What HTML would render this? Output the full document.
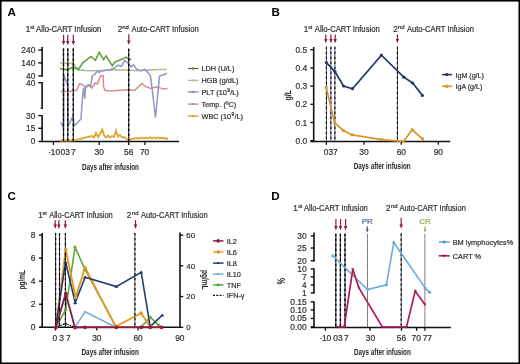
<!DOCTYPE html>
<html><head><meta charset="utf-8"><style>
html,body{margin:0;padding:0;background:#fff;}
body{width:520px;height:364px;overflow:hidden;}
svg{display:block;font-family:"Liberation Sans", sans-serif;will-change:transform;}
</style></head><body>
<svg width="520" height="364" viewBox="0 0 520 364">
<rect x="0" y="0" width="520" height="364" fill="#fff"/>
<text x="7.4" y="16.1" font-size="11.6" fill="#000" font-weight="bold">A</text>
<text x="25.85" y="32" font-size="8.2" fill="#333333" stroke="#333333" stroke-width="0.22">1</text>
<text x="30.2" y="29.2" font-size="5.3" fill="#333333" stroke="#333333" stroke-width="0.22">st</text>
<text x="36.1" y="32" font-size="8.2" fill="#333333" textLength="65.2" lengthAdjust="spacingAndGlyphs" stroke="#333333" stroke-width="0.22">Allo-CART Infusion</text>
<text x="117.7" y="32" font-size="8.2" fill="#333333" stroke="#333333" stroke-width="0.22">2</text>
<text x="122.2" y="29.2" font-size="5.9" fill="#333333" stroke="#333333" stroke-width="0.22">nd</text>
<text x="131.6" y="32" font-size="8.2" fill="#333333" textLength="67.0" lengthAdjust="spacingAndGlyphs" stroke="#333333" stroke-width="0.22">Auto-CART Infusion</text>
<line x1="63.6" y1="34.8" x2="63.6" y2="41.4" stroke="#8e1a3c" stroke-width="1.2"/>
<polygon points="61.9,40.9 65.3,40.9 63.6,45.3" fill="#8e1a3c"/>
<line x1="67.8" y1="34.8" x2="67.8" y2="41.4" stroke="#8e1a3c" stroke-width="1.2"/>
<polygon points="66.1,40.9 69.5,40.9 67.8,45.3" fill="#8e1a3c"/>
<line x1="73.3" y1="34.8" x2="73.3" y2="41.4" stroke="#8e1a3c" stroke-width="1.2"/>
<polygon points="71.6,40.9 75.0,40.9 73.3,45.3" fill="#8e1a3c"/>
<line x1="128.8" y1="34.3" x2="128.8" y2="41.0" stroke="#8e1a3c" stroke-width="1.2"/>
<polygon points="127.10000000000001,40.5 130.5,40.5 128.8,44.9" fill="#8e1a3c"/>
<line x1="42.1" y1="46.9" x2="42.1" y2="76.7" stroke="#111" stroke-width="1.6" stroke-linecap="butt"/>
<line x1="42.1" y1="82.0" x2="42.1" y2="108.8" stroke="#111" stroke-width="1.6" stroke-linecap="butt"/>
<line x1="42.1" y1="115.3" x2="42.1" y2="142.0" stroke="#111" stroke-width="1.6" stroke-linecap="butt"/>
<line x1="38.3" y1="50.0" x2="42.1" y2="50.0" stroke="#111" stroke-width="1.4" stroke-linecap="butt"/>
<line x1="38.3" y1="62.9" x2="42.1" y2="62.9" stroke="#111" stroke-width="1.4" stroke-linecap="butt"/>
<line x1="38.3" y1="75.9" x2="42.1" y2="75.9" stroke="#111" stroke-width="1.4" stroke-linecap="butt"/>
<line x1="38.3" y1="82.7" x2="42.1" y2="82.7" stroke="#111" stroke-width="1.4" stroke-linecap="butt"/>
<line x1="38.3" y1="115.6" x2="42.1" y2="115.6" stroke="#111" stroke-width="1.4" stroke-linecap="butt"/>
<line x1="38.3" y1="128.3" x2="42.1" y2="128.3" stroke="#111" stroke-width="1.4" stroke-linecap="butt"/>
<line x1="40.6" y1="108.2" x2="42.9" y2="108.2" stroke="#111" stroke-width="1.2" stroke-linecap="butt"/>
<line x1="38.6" y1="141.4" x2="179.0" y2="141.4" stroke="#111" stroke-width="1.5" stroke-linecap="butt"/>
<line x1="53.4" y1="141.4" x2="53.4" y2="144.9" stroke="#111" stroke-width="1.3" stroke-linecap="butt"/>
<line x1="99.2" y1="141.4" x2="99.2" y2="144.9" stroke="#111" stroke-width="1.3" stroke-linecap="butt"/>
<line x1="128.7" y1="141.4" x2="128.7" y2="144.9" stroke="#111" stroke-width="1.3" stroke-linecap="butt"/>
<line x1="144.9" y1="141.4" x2="144.9" y2="144.9" stroke="#111" stroke-width="1.3" stroke-linecap="butt"/>
<text x="35.3" y="53.0" font-size="8.4" fill="#333333" text-anchor="end" stroke="#333333" stroke-width="0.22">240</text>
<text x="35.3" y="65.9" font-size="8.4" fill="#333333" text-anchor="end" stroke="#333333" stroke-width="0.22">140</text>
<text x="35.3" y="78.9" font-size="8.4" fill="#333333" text-anchor="end" stroke="#333333" stroke-width="0.22">40</text>
<text x="35.3" y="85.7" font-size="8.4" fill="#333333" text-anchor="end" stroke="#333333" stroke-width="0.22">40</text>
<text x="35.3" y="118.6" font-size="8.4" fill="#333333" text-anchor="end" stroke="#333333" stroke-width="0.22">30</text>
<text x="35.3" y="131.3" font-size="8.4" fill="#333333" text-anchor="end" stroke="#333333" stroke-width="0.22">15</text>
<text x="35.3" y="144.0" font-size="8.4" fill="#333333" text-anchor="end" stroke="#333333" stroke-width="0.22">0</text>
<text x="54.4" y="154.7" font-size="8.4" fill="#333333" text-anchor="middle" stroke="#333333" stroke-width="0.22"><tspan font-size="6" dy="-0.6">-</tspan><tspan dy="0.6">10</tspan></text>
<text x="62.9" y="154.7" font-size="8.4" fill="#333333" text-anchor="middle" stroke="#333333" stroke-width="0.22">0</text>
<text x="67.6" y="154.7" font-size="8.4" fill="#333333" text-anchor="middle" stroke="#333333" stroke-width="0.22">3</text>
<text x="73.3" y="154.7" font-size="8.4" fill="#333333" text-anchor="middle" stroke="#333333" stroke-width="0.22">7</text>
<text x="99.2" y="154.7" font-size="8.4" fill="#333333" text-anchor="middle" stroke="#333333" stroke-width="0.22">30</text>
<text x="128.7" y="154.7" font-size="8.4" fill="#333333" text-anchor="middle" stroke="#333333" stroke-width="0.22">56</text>
<text x="144.6" y="154.7" font-size="8.4" fill="#333333" text-anchor="middle" stroke="#333333" stroke-width="0.22">70</text>
<text x="82.0" y="170.1" font-size="9.4" fill="#222" font-weight="bold" textLength="56.9" lengthAdjust="spacingAndGlyphs">Days after infusion</text>
<polyline points="60,62.8 63.5,63 67.6,63.2 73.3,63.6 76,67 79,69.8 85,70.6 95,70.8 105,70.4 115,69.8 125,69.9 130,70.2 136,70.8 142,70.3 150,69.9 160,69.6 167,69.6" fill="none" stroke="#b0bc8c" stroke-width="1.5" stroke-linejoin="miter"/>
<polyline points="60,68.4 63.5,69.3 67.6,69.7 73.3,67.2 78.3,69.7 82.8,62.8 91,56.4 95.4,60.2 99.2,52.3 103.6,59.6 106.1,55.8 112.3,65.8 114.6,62.3 122.7,58.8 126.1,57.1 128.5,58.8 131.3,59.4" fill="none" stroke="#5b9e32" stroke-width="1.5" stroke-linejoin="miter"/>
<polyline points="60.7,91.6 65,91.5 70,91.2 76.6,90.3 79.7,83.8 82.8,84.9 85.8,88 88.5,84.7 92,88 95,83 97.5,84 99.7,78 100.8,75.7 103.2,75.7 103.5,86.5 105,90.3 110,91 117.4,90.4 128.5,89.7 134.7,90.4 138.4,86.7 142.1,83.6 145.8,86.7 150.8,88.5 157,86.7 163.2,89.1 167.5,88.5" fill="none" stroke="#d4908a" stroke-width="1.5" stroke-linejoin="miter"/>
<polyline points="61,122 63.5,128 63.5,74 67.8,86 67.8,127 69,124 73,116 74.2,126 81,119 82.5,97 83.5,88 84.8,99 85.5,87 88.2,85 90.5,86.5 92.4,75.7 95,74.2 97.4,71 99,72.6 101.2,71 105,70.2 110,69.8 114.6,68 118,65.2 121.5,66.3 124.4,60.6 127.3,62.3 129,64.6 131.3,66.9 133.6,64.6 136.5,69.2 141.1,71 144.6,69.2 148,72.7 150.4,75.6 152.6,92.8 155.5,117.6 157.6,95.3 159.6,76.1 163,75 167,73.3" fill="none" stroke="#9197c6" stroke-width="1.5" stroke-linejoin="miter"/>
<polyline points="60,140.5 70,140.5 76,140 80,139 84,137.8 88,137 92,136 94,137.5 96,133 98,137 100,134 102.3,129.5 104,135 106,137.5 108,135.5 110,137.5 112,136 114,137 116,130.5 118,136.5 120,135 122,137.5 124,137 126,138.5 128.5,140 131,139.5 134,138.5 137,138 140,138.5 142,137.5 144,138.5 146,137.5 148,138.5 150,137.3 152,138.5 154,137.5 156,138.5 158,137.5 160,138.2 162,137.8 164,138.5 166,138 168,139.5" fill="none" stroke="#e2a73a" stroke-width="1.9" stroke-linejoin="miter"/>
<line x1="63.5" y1="48.5" x2="63.5" y2="141" stroke="#30303a" stroke-width="1.2349999999999999" stroke-linecap="butt"/>
<line x1="63.5" y1="48.5" x2="63.5" y2="141" stroke="#000" stroke-width="1.3" stroke-linecap="butt" stroke-dasharray="2.2 2.8"/>
<line x1="67.8" y1="48.5" x2="67.8" y2="141" stroke="#30303a" stroke-width="1.2349999999999999" stroke-linecap="butt"/>
<line x1="67.8" y1="48.5" x2="67.8" y2="141" stroke="#000" stroke-width="1.3" stroke-linecap="butt" stroke-dasharray="2.2 2.8"/>
<line x1="73.3" y1="48.5" x2="73.3" y2="141" stroke="#30303a" stroke-width="1.2349999999999999" stroke-linecap="butt"/>
<line x1="73.3" y1="48.5" x2="73.3" y2="141" stroke="#000" stroke-width="1.3" stroke-linecap="butt" stroke-dasharray="2.2 2.8"/>
<line x1="128.7" y1="48.8" x2="128.7" y2="141" stroke="#30303a" stroke-width="1.2349999999999999" stroke-linecap="butt"/>
<line x1="128.7" y1="48.8" x2="128.7" y2="141" stroke="#000" stroke-width="1.3" stroke-linecap="butt" stroke-dasharray="2.2 2.8"/>
<line x1="188" y1="68.5" x2="198.5" y2="68.5" stroke="#55704a" stroke-width="1.3" stroke-linecap="butt"/>
<circle cx="193.2" cy="68.5" r="1.2" fill="#5e8a3e"/>
<text x="201.5" y="71.2" font-size="7.3" fill="#333333" stroke="#333333" stroke-width="0.22">LDH (U/L)</text>
<line x1="188" y1="80.4" x2="198.5" y2="80.4" stroke="#b4bb98" stroke-width="1.3" stroke-linecap="butt"/>
<circle cx="193.2" cy="80.4" r="1.2" fill="#b0c08c"/>
<text x="201.5" y="83.1" font-size="7.3" fill="#333333" stroke="#333333" stroke-width="0.22">HGB (g/dL)</text>
<line x1="188" y1="91.9" x2="198.5" y2="91.9" stroke="#7e84b0" stroke-width="1.3" stroke-linecap="butt"/>
<circle cx="193.2" cy="91.9" r="1.2" fill="#8088c0"/>
<text x="201.5" y="94.6" font-size="7.3" fill="#333333" stroke="#333333" stroke-width="0.22">PLT (10<tspan font-size="5" dx="0.4" dy="-3">9</tspan><tspan dx="0.2" dy="3">/L)</tspan></text>
<line x1="188" y1="104.1" x2="198.5" y2="104.1" stroke="#b08e88" stroke-width="1.3" stroke-linecap="butt"/>
<circle cx="193.2" cy="104.1" r="1.2" fill="#c08a84"/>
<text x="201.5" y="106.8" font-size="7.3" fill="#333333" stroke="#333333" stroke-width="0.22">Temp. (ºC)</text>
<line x1="188" y1="116.1" x2="198.5" y2="116.1" stroke="#d09a3a" stroke-width="1.3" stroke-linecap="butt"/>
<circle cx="193.2" cy="116.1" r="1.2" fill="#dca030"/>
<text x="201.5" y="118.8" font-size="7.3" fill="#333333" stroke="#333333" stroke-width="0.22">WBC (10<tspan font-size="5" dx="0.4" dy="-3">9</tspan><tspan dx="0.2" dy="3">/L)</tspan></text>
<text x="271.5" y="15.7" font-size="11.6" fill="#000" font-weight="bold">B</text>
<text x="303.75" y="31.7" font-size="8.2" fill="#333333" stroke="#333333" stroke-width="0.22">1</text>
<text x="308.2" y="28.9" font-size="5.3" fill="#333333" stroke="#333333" stroke-width="0.22">st</text>
<text x="314.8" y="31.7" font-size="8.2" fill="#333333" textLength="64.9" lengthAdjust="spacingAndGlyphs" stroke="#333333" stroke-width="0.22">Allo-CART Infusion</text>
<text x="393.2" y="31.7" font-size="8.2" fill="#333333" stroke="#333333" stroke-width="0.22">2</text>
<text x="398.1" y="28.9" font-size="5.9" fill="#333333" stroke="#333333" stroke-width="0.22">nd</text>
<text x="407.0" y="31.7" font-size="8.2" fill="#333333" textLength="66.9" lengthAdjust="spacingAndGlyphs" stroke="#333333" stroke-width="0.22">Auto-CART Infusion</text>
<line x1="325.8" y1="34.6" x2="325.8" y2="39.4" stroke="#8e1a3c" stroke-width="1.2"/>
<polygon points="324.1,38.9 327.5,38.9 325.8,43.3" fill="#8e1a3c"/>
<line x1="330.9" y1="34.6" x2="330.9" y2="39.4" stroke="#8e1a3c" stroke-width="1.2"/>
<polygon points="329.2,38.9 332.59999999999997,38.9 330.9,43.3" fill="#8e1a3c"/>
<line x1="335.2" y1="34.6" x2="335.2" y2="39.4" stroke="#8e1a3c" stroke-width="1.2"/>
<polygon points="333.5,38.9 336.9,38.9 335.2,43.3" fill="#8e1a3c"/>
<line x1="397.4" y1="34.6" x2="397.4" y2="39.4" stroke="#8e1a3c" stroke-width="1.2"/>
<polygon points="395.7,38.9 399.09999999999997,38.9 397.4,43.3" fill="#8e1a3c"/>
<line x1="313.7" y1="47.0" x2="313.7" y2="142.2" stroke="#111" stroke-width="1.6" stroke-linecap="butt"/>
<line x1="310.4" y1="49.7" x2="313.7" y2="49.7" stroke="#111" stroke-width="1.4" stroke-linecap="butt"/>
<text x="307.2" y="52.7" font-size="8.4" fill="#333333" text-anchor="end" stroke="#333333" stroke-width="0.22">0.5</text>
<line x1="310.4" y1="67.9" x2="313.7" y2="67.9" stroke="#111" stroke-width="1.4" stroke-linecap="butt"/>
<text x="307.2" y="70.9" font-size="8.4" fill="#333333" text-anchor="end" stroke="#333333" stroke-width="0.22">0.4</text>
<line x1="310.4" y1="86.1" x2="313.7" y2="86.1" stroke="#111" stroke-width="1.4" stroke-linecap="butt"/>
<text x="307.2" y="89.1" font-size="8.4" fill="#333333" text-anchor="end" stroke="#333333" stroke-width="0.22">0.3</text>
<line x1="310.4" y1="104.3" x2="313.7" y2="104.3" stroke="#111" stroke-width="1.4" stroke-linecap="butt"/>
<text x="307.2" y="107.3" font-size="8.4" fill="#333333" text-anchor="end" stroke="#333333" stroke-width="0.22">0.2</text>
<line x1="310.4" y1="122.5" x2="313.7" y2="122.5" stroke="#111" stroke-width="1.4" stroke-linecap="butt"/>
<text x="307.2" y="125.5" font-size="8.4" fill="#333333" text-anchor="end" stroke="#333333" stroke-width="0.22">0.1</text>
<line x1="310.4" y1="140.7" x2="313.7" y2="140.7" stroke="#111" stroke-width="1.4" stroke-linecap="butt"/>
<text x="307.2" y="143.7" font-size="8.4" fill="#333333" text-anchor="end" stroke="#333333" stroke-width="0.22">0.0</text>
<line x1="310.4" y1="141.6" x2="450.2" y2="141.6" stroke="#111" stroke-width="1.5" stroke-linecap="butt"/>
<line x1="326.4" y1="141.6" x2="326.4" y2="144.8" stroke="#111" stroke-width="1.3" stroke-linecap="butt"/>
<line x1="364.0" y1="141.6" x2="364.0" y2="144.8" stroke="#111" stroke-width="1.3" stroke-linecap="butt"/>
<line x1="401.3" y1="141.6" x2="401.3" y2="144.8" stroke="#111" stroke-width="1.3" stroke-linecap="butt"/>
<line x1="438.3" y1="141.6" x2="438.3" y2="144.8" stroke="#111" stroke-width="1.3" stroke-linecap="butt"/>
<text x="326.0" y="154.6" font-size="8.4" fill="#333333" text-anchor="middle" stroke="#333333" stroke-width="0.22">0</text>
<text x="330.8" y="154.6" font-size="8.4" fill="#333333" text-anchor="middle" stroke="#333333" stroke-width="0.22">3</text>
<text x="335.4" y="154.6" font-size="8.4" fill="#333333" text-anchor="middle" stroke="#333333" stroke-width="0.22">7</text>
<text x="364.0" y="154.6" font-size="8.4" fill="#333333" text-anchor="middle" stroke="#333333" stroke-width="0.22">30</text>
<text x="401.3" y="154.6" font-size="8.4" fill="#333333" text-anchor="middle" stroke="#333333" stroke-width="0.22">60</text>
<text x="438.3" y="154.6" font-size="8.4" fill="#333333" text-anchor="middle" stroke="#333333" stroke-width="0.22">90</text>
<text x="353.8" y="168.5" font-size="9.4" fill="#222" font-weight="bold" textLength="56.8" lengthAdjust="spacingAndGlyphs">Days after infusion</text>
<text x="290.6" y="95.3" font-size="9.6" fill="#222" text-anchor="middle" font-weight="bold" textLength="10.6" lengthAdjust="spacingAndGlyphs" transform="rotate(-90 290.6 95.3)">g/L</text>
<line x1="326.4" y1="46.8" x2="326.4" y2="141.6" stroke="#4a4a66" stroke-width="0.9974999999999999" stroke-linecap="butt"/>
<line x1="326.4" y1="46.8" x2="326.4" y2="141.6" stroke="#000" stroke-width="1.05" stroke-linecap="butt" stroke-dasharray="2.2 2.8"/>
<line x1="330.9" y1="46.8" x2="330.9" y2="141.6" stroke="#4a4a66" stroke-width="0.9974999999999999" stroke-linecap="butt"/>
<line x1="330.9" y1="46.8" x2="330.9" y2="141.6" stroke="#000" stroke-width="1.05" stroke-linecap="butt" stroke-dasharray="2.2 2.8"/>
<line x1="334.9" y1="46.8" x2="334.9" y2="141.6" stroke="#4a4a66" stroke-width="0.9974999999999999" stroke-linecap="butt"/>
<line x1="334.9" y1="46.8" x2="334.9" y2="141.6" stroke="#000" stroke-width="1.05" stroke-linecap="butt" stroke-dasharray="2.2 2.8"/>
<line x1="397.4" y1="46.8" x2="397.4" y2="141.6" stroke="#4a4a66" stroke-width="0.9974999999999999" stroke-linecap="butt"/>
<line x1="397.4" y1="46.8" x2="397.4" y2="141.6" stroke="#000" stroke-width="1.05" stroke-linecap="butt" stroke-dasharray="2.2 2.8"/>
<polyline points="326.2,87.5 334.7,122.8 343.3,130.5 352.1,134.9 381.7,139.6 403.5,141.4 412.2,129.8 422.6,139.0" fill="none" stroke="#d8962a" stroke-width="1.7" stroke-linejoin="miter"/>
<rect x="324.8" y="86.1" width="2.8" height="2.8" fill="#d8962a"/>
<rect x="333.3" y="121.39999999999999" width="2.8" height="2.8" fill="#d8962a"/>
<rect x="341.90000000000003" y="129.1" width="2.8" height="2.8" fill="#d8962a"/>
<rect x="350.70000000000005" y="133.5" width="2.8" height="2.8" fill="#d8962a"/>
<rect x="380.3" y="138.2" width="2.8" height="2.8" fill="#d8962a"/>
<rect x="402.1" y="140.0" width="2.8" height="2.8" fill="#d8962a"/>
<rect x="410.8" y="128.4" width="2.8" height="2.8" fill="#d8962a"/>
<rect x="421.20000000000005" y="137.6" width="2.8" height="2.8" fill="#d8962a"/>
<polyline points="326.4,62.6 334.9,71.6 343.5,86.0 352.5,88.7 381.4,55.2 403.8,77.2 412.6,83.0 422.4,95.4" fill="none" stroke="#27376e" stroke-width="1.7" stroke-linejoin="miter"/>
<circle cx="326.4" cy="62.6" r="1.6" fill="#27376e"/>
<circle cx="334.9" cy="71.6" r="1.6" fill="#27376e"/>
<circle cx="343.5" cy="86.0" r="1.6" fill="#27376e"/>
<circle cx="352.5" cy="88.7" r="1.6" fill="#27376e"/>
<circle cx="381.4" cy="55.2" r="1.6" fill="#27376e"/>
<circle cx="403.8" cy="77.2" r="1.6" fill="#27376e"/>
<circle cx="412.6" cy="83.0" r="1.6" fill="#27376e"/>
<circle cx="422.4" cy="95.4" r="1.6" fill="#27376e"/>
<line x1="442" y1="74.6" x2="452.1" y2="74.6" stroke="#27376e" stroke-width="1.6" stroke-linecap="butt"/>
<circle cx="446.8" cy="74.6" r="1.7" fill="#27376e"/>
<line x1="442" y1="86.3" x2="452.1" y2="86.3" stroke="#d8962a" stroke-width="1.6" stroke-linecap="butt"/>
<rect x="445.35" y="84.85" width="2.9" height="2.9" fill="#d8962a"/>
<text x="455.5" y="77.5" font-size="7.1" fill="#333333" stroke="#333333" stroke-width="0.22">IgM (g/L)</text>
<text x="455.5" y="88.5" font-size="7.1" fill="#333333" stroke="#333333" stroke-width="0.22">IgA (g/L)</text>
<text x="7.4" y="199.7" font-size="11.6" fill="#000" font-weight="bold">C</text>
<text x="38.15" y="218.0" font-size="8.2" fill="#333333" stroke="#333333" stroke-width="0.22">1</text>
<text x="42.5" y="215.2" font-size="5.3" fill="#333333" stroke="#333333" stroke-width="0.22">st</text>
<text x="49.2" y="218.0" font-size="8.2" fill="#333333" textLength="63.6" lengthAdjust="spacingAndGlyphs" stroke="#333333" stroke-width="0.22">Allo-CART Infusion</text>
<text x="126.8" y="218.0" font-size="8.2" fill="#333333" stroke="#333333" stroke-width="0.22">2</text>
<text x="132.1" y="215.2" font-size="5.9" fill="#333333" stroke="#333333" stroke-width="0.22">nd</text>
<text x="141.0" y="218.0" font-size="8.2" fill="#333333" textLength="66.6" lengthAdjust="spacingAndGlyphs" stroke="#333333" stroke-width="0.22">Auto-CART Infusion</text>
<line x1="55.2" y1="220.3" x2="55.2" y2="225.1" stroke="#8e1a3c" stroke-width="1.2"/>
<polygon points="53.5,224.6 56.900000000000006,224.6 55.2,229.0" fill="#8e1a3c"/>
<line x1="58.8" y1="220.3" x2="58.8" y2="225.1" stroke="#8e1a3c" stroke-width="1.2"/>
<polygon points="57.099999999999994,224.6 60.5,224.6 58.8,229.0" fill="#8e1a3c"/>
<line x1="65.3" y1="220.3" x2="65.3" y2="225.1" stroke="#8e1a3c" stroke-width="1.2"/>
<polygon points="63.599999999999994,224.6 67.0,224.6 65.3,229.0" fill="#8e1a3c"/>
<line x1="135.5" y1="220.3" x2="135.5" y2="225.1" stroke="#8e1a3c" stroke-width="1.2"/>
<polygon points="133.8,224.6 137.2,224.6 135.5,229.0" fill="#8e1a3c"/>
<line x1="42.2" y1="233.0" x2="42.2" y2="327.9" stroke="#111" stroke-width="1.6" stroke-linecap="butt"/>
<line x1="39.0" y1="235.1" x2="42.2" y2="235.1" stroke="#111" stroke-width="1.4" stroke-linecap="butt"/>
<text x="35.3" y="238.1" font-size="8.4" fill="#333333" text-anchor="end" stroke="#333333" stroke-width="0.22">8</text>
<line x1="39.0" y1="258.15" x2="42.2" y2="258.15" stroke="#111" stroke-width="1.4" stroke-linecap="butt"/>
<text x="35.3" y="261.15" font-size="8.4" fill="#333333" text-anchor="end" stroke="#333333" stroke-width="0.22">6</text>
<line x1="39.0" y1="281.2" x2="42.2" y2="281.2" stroke="#111" stroke-width="1.4" stroke-linecap="butt"/>
<text x="35.3" y="284.2" font-size="8.4" fill="#333333" text-anchor="end" stroke="#333333" stroke-width="0.22">4</text>
<line x1="39.0" y1="304.25" x2="42.2" y2="304.25" stroke="#111" stroke-width="1.4" stroke-linecap="butt"/>
<text x="35.3" y="307.25" font-size="8.4" fill="#333333" text-anchor="end" stroke="#333333" stroke-width="0.22">2</text>
<line x1="39.0" y1="327.3" x2="42.2" y2="327.3" stroke="#111" stroke-width="1.4" stroke-linecap="butt"/>
<text x="35.3" y="330.3" font-size="8.4" fill="#333333" text-anchor="end" stroke="#333333" stroke-width="0.22">0</text>
<line x1="180.0" y1="232.4" x2="180.0" y2="327.9" stroke="#111" stroke-width="1.6" stroke-linecap="butt"/>
<line x1="180.0" y1="235.1" x2="183.2" y2="235.1" stroke="#111" stroke-width="1.4" stroke-linecap="butt"/>
<text x="186.3" y="237.9" font-size="7.8" fill="#333333" stroke="#333333" stroke-width="0.22">60</text>
<line x1="180.0" y1="265.83" x2="183.2" y2="265.83" stroke="#111" stroke-width="1.4" stroke-linecap="butt"/>
<text x="186.3" y="268.63" font-size="7.8" fill="#333333" stroke="#333333" stroke-width="0.22">40</text>
<line x1="180.0" y1="296.56" x2="183.2" y2="296.56" stroke="#111" stroke-width="1.4" stroke-linecap="butt"/>
<text x="186.3" y="299.36" font-size="7.8" fill="#333333" stroke="#333333" stroke-width="0.22">20</text>
<line x1="180.0" y1="327.28999999999996" x2="183.2" y2="327.28999999999996" stroke="#111" stroke-width="1.4" stroke-linecap="butt"/>
<text x="186.3" y="330.09" font-size="7.8" fill="#333333" stroke="#333333" stroke-width="0.22">0</text>
<line x1="39.5" y1="327.3" x2="180.0" y2="327.3" stroke="#111" stroke-width="1.5" stroke-linecap="butt"/>
<line x1="55.5" y1="327.3" x2="55.5" y2="330.6" stroke="#111" stroke-width="1.3" stroke-linecap="butt"/>
<line x1="96.8" y1="327.3" x2="96.8" y2="330.6" stroke="#111" stroke-width="1.3" stroke-linecap="butt"/>
<line x1="138.1" y1="327.3" x2="138.1" y2="330.6" stroke="#111" stroke-width="1.3" stroke-linecap="butt"/>
<text x="54.8" y="340.8" font-size="8.4" fill="#333333" text-anchor="middle" stroke="#333333" stroke-width="0.22">0</text>
<text x="61.6" y="340.8" font-size="8.4" fill="#333333" text-anchor="middle" stroke="#333333" stroke-width="0.22">3</text>
<text x="68.4" y="340.8" font-size="8.4" fill="#333333" text-anchor="middle" stroke="#333333" stroke-width="0.22">7</text>
<text x="96.8" y="340.8" font-size="8.4" fill="#333333" text-anchor="middle" stroke="#333333" stroke-width="0.22">30</text>
<text x="138.1" y="340.8" font-size="8.4" fill="#333333" text-anchor="middle" stroke="#333333" stroke-width="0.22">60</text>
<text x="179.8" y="340.8" font-size="8.4" fill="#333333" text-anchor="middle" stroke="#333333" stroke-width="0.22">90</text>
<text x="81.5" y="354.5" font-size="9.4" fill="#222" font-weight="bold" textLength="57.3" lengthAdjust="spacingAndGlyphs">Days after infusion</text>
<text x="25.5" y="279.7" font-size="9.6" fill="#222" text-anchor="middle" font-weight="bold" textLength="19.5" lengthAdjust="spacingAndGlyphs" transform="rotate(-90 25.5 279.7)">pg/mL</text>
<text x="201.5" y="279.8" font-size="9.6" fill="#222" text-anchor="middle" font-weight="bold" textLength="19.5" lengthAdjust="spacingAndGlyphs" transform="rotate(90 201.5 279.8)">pg/mL</text>
<polyline points="55.7,327.3 65.6,292 74.9,327.3 85.1,311.8 114.3,326.5 141.0,327.3" fill="none" stroke="#72ade0" stroke-width="1.5" stroke-linejoin="miter"/>
<polyline points="55.7,327.3 65.6,310 75.0,247.3 85.1,269.5 115.7,326.5 141.0,327.3 150.2,317.2 158.9,325.3" fill="none" stroke="#5ea83b" stroke-width="1.6" stroke-linejoin="miter"/>
<polyline points="55.7,327.3 65.8,249.8 75.6,297.3 85.1,267.8 115.7,326.5 141.0,313.2 150.2,326.6" fill="none" stroke="#e49b2a" stroke-width="1.9" stroke-linejoin="miter"/>
<polyline points="55.7,327.3 65.6,262.0 75.2,302.7 85.1,277.2 116.3,286.6 141.2,272.2 150.2,326.6 162.3,315.2" fill="none" stroke="#243d6c" stroke-width="1.6" stroke-linejoin="miter"/>
<polyline points="55.7,327.3 65.6,323.5 74.9,327.3 85.1,327.3" fill="none" stroke="#111" stroke-width="1.2" stroke-linejoin="miter" stroke-dasharray="1.5 1"/>
<line x1="55.6" y1="233.0" x2="55.6" y2="327.3" stroke="#30303a" stroke-width="1.0924999999999998" stroke-linecap="butt"/>
<line x1="55.6" y1="233.0" x2="55.6" y2="327.3" stroke="#000" stroke-width="1.15" stroke-linecap="butt" stroke-dasharray="2.2 2.8"/>
<line x1="59.5" y1="233.0" x2="59.5" y2="327.3" stroke="#30303a" stroke-width="1.0924999999999998" stroke-linecap="butt"/>
<line x1="59.5" y1="233.0" x2="59.5" y2="327.3" stroke="#000" stroke-width="1.15" stroke-linecap="butt" stroke-dasharray="2.2 2.8"/>
<line x1="65.4" y1="233.0" x2="65.4" y2="327.3" stroke="#30303a" stroke-width="1.0924999999999998" stroke-linecap="butt"/>
<line x1="65.4" y1="233.0" x2="65.4" y2="327.3" stroke="#000" stroke-width="1.15" stroke-linecap="butt" stroke-dasharray="2.2 2.8"/>
<line x1="134.9" y1="233.0" x2="134.9" y2="327.3" stroke="#55556a" stroke-width="1.045" stroke-linecap="butt"/>
<line x1="134.9" y1="233.0" x2="134.9" y2="327.3" stroke="#000" stroke-width="1.1" stroke-linecap="butt" stroke-dasharray="2.2 2.8"/>
<polygon points="54.2,328.2 57.2,328.2 55.7,325.95" fill="#72ade0"/>
<polygon points="64.1,292.9 67.1,292.9 65.6,290.65" fill="#72ade0"/>
<polygon points="73.4,328.2 76.4,328.2 74.9,325.95" fill="#72ade0"/>
<polygon points="83.6,312.7 86.6,312.7 85.1,310.45" fill="#72ade0"/>
<polygon points="112.8,327.4 115.8,327.4 114.3,325.15" fill="#72ade0"/>
<polygon points="139.5,328.2 142.5,328.2 141.0,325.95" fill="#72ade0"/>
<polygon points="55.7,325.40000000000003 57.6,327.3 55.7,329.2 53.800000000000004,327.3" fill="#5ea83b"/>
<polygon points="65.6,308.1 67.5,310 65.6,311.9 63.699999999999996,310" fill="#5ea83b"/>
<polygon points="75.0,245.4 76.9,247.3 75.0,249.20000000000002 73.1,247.3" fill="#5ea83b"/>
<polygon points="85.1,267.6 87.0,269.5 85.1,271.4 83.19999999999999,269.5" fill="#5ea83b"/>
<polygon points="115.7,324.6 117.60000000000001,326.5 115.7,328.4 113.8,326.5" fill="#5ea83b"/>
<polygon points="141.0,325.40000000000003 142.9,327.3 141.0,329.2 139.1,327.3" fill="#5ea83b"/>
<polygon points="150.2,315.3 152.1,317.2 150.2,319.09999999999997 148.29999999999998,317.2" fill="#5ea83b"/>
<polygon points="158.9,323.40000000000003 160.8,325.3 158.9,327.2 157.0,325.3" fill="#5ea83b"/>
<circle cx="55.7" cy="327.3" r="1.9" fill="#e49b2a"/>
<circle cx="65.8" cy="249.8" r="1.9" fill="#e49b2a"/>
<circle cx="75.6" cy="297.3" r="1.9" fill="#e49b2a"/>
<circle cx="85.1" cy="267.8" r="1.9" fill="#e49b2a"/>
<circle cx="115.7" cy="326.5" r="1.9" fill="#e49b2a"/>
<circle cx="141.0" cy="313.2" r="1.9" fill="#e49b2a"/>
<circle cx="150.2" cy="326.6" r="1.9" fill="#e49b2a"/>
<polygon points="53.7,328.5 57.7,328.5 55.7,325.5" fill="#243d6c"/>
<polygon points="63.599999999999994,263.2 67.6,263.2 65.6,260.2" fill="#243d6c"/>
<polygon points="73.2,303.9 77.2,303.9 75.2,300.9" fill="#243d6c"/>
<polygon points="83.1,278.4 87.1,278.4 85.1,275.4" fill="#243d6c"/>
<polygon points="114.3,287.8 118.3,287.8 116.3,284.8" fill="#243d6c"/>
<polygon points="139.2,273.4 143.2,273.4 141.2,270.4" fill="#243d6c"/>
<polygon points="148.2,327.8 152.2,327.8 150.2,324.8" fill="#243d6c"/>
<polygon points="160.3,316.4 164.3,316.4 162.3,313.4" fill="#243d6c"/>
<polygon points="63.8,324.58 67.39999999999999,324.58 65.6,321.88" fill="#111"/>
<polyline points="55.7,327.6 65.8,293.9 74.9,327.6 85.1,327.3 116.3,327.3 141.2,327.3 150.2,327.3 161.6,327.3" fill="none" stroke="#921a3a" stroke-width="1.7" stroke-linejoin="miter"/>
<circle cx="55.7" cy="327.6" r="1.9" fill="#921a3a"/>
<circle cx="65.8" cy="293.9" r="1.9" fill="#921a3a"/>
<circle cx="74.9" cy="327.6" r="1.9" fill="#921a3a"/>
<circle cx="85.1" cy="327.3" r="1.9" fill="#921a3a"/>
<circle cx="116.3" cy="327.3" r="1.9" fill="#921a3a"/>
<circle cx="141.2" cy="327.3" r="1.9" fill="#921a3a"/>
<circle cx="150.2" cy="327.3" r="1.9" fill="#921a3a"/>
<circle cx="161.6" cy="327.3" r="1.9" fill="#921a3a"/>
<line x1="213" y1="240.9" x2="223.5" y2="240.9" stroke="#921a3a" stroke-width="1.5" stroke-linecap="butt"/>
<circle cx="218.2" cy="240.9" r="1.8" fill="#921a3a"/>
<text x="226.7" y="243.6" font-size="7.3" fill="#333333" stroke="#333333" stroke-width="0.22">IL2</text>
<line x1="213" y1="251.9" x2="223.5" y2="251.9" stroke="#e49b2a" stroke-width="1.5" stroke-linecap="butt"/>
<circle cx="218.2" cy="251.9" r="1.8" fill="#e49b2a"/>
<text x="226.7" y="254.6" font-size="7.3" fill="#333333" stroke="#333333" stroke-width="0.22">IL6</text>
<line x1="213" y1="263.1" x2="223.5" y2="263.1" stroke="#243d6c" stroke-width="1.5" stroke-linecap="butt"/>
<polygon points="216.5,264.12 219.89999999999998,264.12 218.2,261.57000000000005" fill="#243d6c"/>
<text x="226.7" y="265.8" font-size="7.3" fill="#333333" stroke="#333333" stroke-width="0.22">IL8</text>
<line x1="213" y1="274.1" x2="223.5" y2="274.1" stroke="#72ade0" stroke-width="1.5" stroke-linecap="butt"/>
<polygon points="216.5,275.12 219.89999999999998,275.12 218.2,272.57000000000005" fill="#72ade0"/>
<text x="226.7" y="276.8" font-size="7.3" fill="#333333" stroke="#333333" stroke-width="0.22">IL10</text>
<line x1="213" y1="284.9" x2="223.5" y2="284.9" stroke="#5ea83b" stroke-width="1.5" stroke-linecap="butt"/>
<polygon points="218.2,283.0 220.1,284.9 218.2,286.79999999999995 216.29999999999998,284.9" fill="#5ea83b"/>
<text x="226.7" y="287.6" font-size="7.3" fill="#333333" stroke="#333333" stroke-width="0.22">TNF</text>
<line x1="213" y1="295.4" x2="223.5" y2="295.4" stroke="#111" stroke-width="1.3" stroke-linecap="butt" stroke-dasharray="2 1.3"/>
<text x="226.7" y="298.1" font-size="7.3" fill="#333333" stroke="#333333" stroke-width="0.22">IFN-γ</text>
<text x="271.3" y="199.7" font-size="11.6" fill="#000" font-weight="bold">D</text>
<text x="293.35" y="211.0" font-size="8.2" fill="#333333" stroke="#333333" stroke-width="0.22">1</text>
<text x="298.2" y="208.2" font-size="5.3" fill="#333333" stroke="#333333" stroke-width="0.22">st</text>
<text x="304.0" y="211.0" font-size="8.2" fill="#333333" textLength="63.8" lengthAdjust="spacingAndGlyphs" stroke="#333333" stroke-width="0.22">Allo-CART Infusion</text>
<text x="386.0" y="211.0" font-size="8.2" fill="#333333" stroke="#333333" stroke-width="0.22">2</text>
<text x="390.9" y="208.2" font-size="5.9" fill="#333333" stroke="#333333" stroke-width="0.22">nd</text>
<text x="399.4" y="211.0" font-size="8.2" fill="#333333" textLength="66.5" lengthAdjust="spacingAndGlyphs" stroke="#333333" stroke-width="0.22">Auto-CART Infusion</text>
<line x1="335.9" y1="219.0" x2="335.9" y2="226.5" stroke="#98183f" stroke-width="1.2"/>
<polygon points="334.2,226.0 337.59999999999997,226.0 335.9,230.4" fill="#98183f"/>
<line x1="340.5" y1="219.0" x2="340.5" y2="226.5" stroke="#98183f" stroke-width="1.2"/>
<polygon points="338.8,226.0 342.2,226.0 340.5,230.4" fill="#98183f"/>
<line x1="345.6" y1="219.0" x2="345.6" y2="226.5" stroke="#98183f" stroke-width="1.2"/>
<polygon points="343.90000000000003,226.0 347.3,226.0 345.6,230.4" fill="#98183f"/>
<line x1="401.2" y1="217.7" x2="401.2" y2="224.79999999999998" stroke="#a0174a" stroke-width="1.2"/>
<polygon points="399.5,224.29999999999998 402.9,224.29999999999998 401.2,228.7" fill="#a0174a"/>
<text x="367.3" y="223.8" font-size="8.0" fill="#5b6a9b" text-anchor="middle" stroke="#5b6a9b" stroke-width="0.22">PR</text>
<text x="425.0" y="223.8" font-size="8.0" fill="#8aaa5c" text-anchor="middle" stroke="#8aaa5c" stroke-width="0.22">CR</text>
<line x1="367.3" y1="226.2" x2="367.3" y2="229.70000000000002" stroke="#3f4c78" stroke-width="1.0"/>
<polygon points="365.90000000000003,229.20000000000002 368.7,229.20000000000002 367.3,232.4" fill="#3f4c78"/>
<line x1="425.0" y1="226.2" x2="425.0" y2="229.70000000000002" stroke="#8aa86a" stroke-width="1.0"/>
<polygon points="423.6,229.20000000000002 426.4,229.20000000000002 425.0,232.4" fill="#8aa86a"/>
<line x1="314.0" y1="232.5" x2="314.0" y2="261.5" stroke="#111" stroke-width="1.6" stroke-linecap="butt"/>
<line x1="314.0" y1="268.4" x2="314.0" y2="293.4" stroke="#111" stroke-width="1.6" stroke-linecap="butt"/>
<line x1="314.0" y1="301.4" x2="314.0" y2="328.1" stroke="#111" stroke-width="1.6" stroke-linecap="butt"/>
<line x1="310.7" y1="235.9" x2="314.0" y2="235.9" stroke="#111" stroke-width="1.4" stroke-linecap="butt"/>
<text x="306.6" y="238.9" font-size="8.4" fill="#333333" text-anchor="end" stroke="#333333" stroke-width="0.22">30</text>
<line x1="310.7" y1="248.0" x2="314.0" y2="248.0" stroke="#111" stroke-width="1.4" stroke-linecap="butt"/>
<text x="306.6" y="251.0" font-size="8.4" fill="#333333" text-anchor="end" stroke="#333333" stroke-width="0.22">25</text>
<line x1="310.7" y1="260.8" x2="314.0" y2="260.8" stroke="#111" stroke-width="1.4" stroke-linecap="butt"/>
<text x="306.6" y="263.8" font-size="8.4" fill="#333333" text-anchor="end" stroke="#333333" stroke-width="0.22">20</text>
<line x1="310.7" y1="268.9" x2="314.0" y2="268.9" stroke="#111" stroke-width="1.4" stroke-linecap="butt"/>
<text x="306.6" y="271.9" font-size="8.4" fill="#333333" text-anchor="end" stroke="#333333" stroke-width="0.22">10</text>
<line x1="310.7" y1="276.9" x2="314.0" y2="276.9" stroke="#111" stroke-width="1.4" stroke-linecap="butt"/>
<text x="306.6" y="279.9" font-size="8.4" fill="#333333" text-anchor="end" stroke="#333333" stroke-width="0.22">7</text>
<line x1="310.7" y1="285.0" x2="314.0" y2="285.0" stroke="#111" stroke-width="1.4" stroke-linecap="butt"/>
<text x="306.6" y="288.0" font-size="8.4" fill="#333333" text-anchor="end" stroke="#333333" stroke-width="0.22">4</text>
<line x1="310.7" y1="292.9" x2="314.0" y2="292.9" stroke="#111" stroke-width="1.4" stroke-linecap="butt"/>
<text x="306.6" y="295.9" font-size="8.4" fill="#333333" text-anchor="end" stroke="#333333" stroke-width="0.22">1</text>
<line x1="310.7" y1="301.8" x2="314.0" y2="301.8" stroke="#111" stroke-width="1.4" stroke-linecap="butt"/>
<text x="306.6" y="304.8" font-size="8.4" fill="#333333" text-anchor="end" stroke="#333333" stroke-width="0.22">0.15</text>
<line x1="310.7" y1="309.9" x2="314.0" y2="309.9" stroke="#111" stroke-width="1.4" stroke-linecap="butt"/>
<text x="306.6" y="312.9" font-size="8.4" fill="#333333" text-anchor="end" stroke="#333333" stroke-width="0.22">0.10</text>
<line x1="310.7" y1="318.4" x2="314.0" y2="318.4" stroke="#111" stroke-width="1.4" stroke-linecap="butt"/>
<text x="306.6" y="321.4" font-size="8.4" fill="#333333" text-anchor="end" stroke="#333333" stroke-width="0.22">0.05</text>
<line x1="310.7" y1="326.9" x2="314.0" y2="326.9" stroke="#111" stroke-width="1.4" stroke-linecap="butt"/>
<text x="306.6" y="329.9" font-size="8.4" fill="#333333" text-anchor="end" stroke="#333333" stroke-width="0.22">0.00</text>
<line x1="310.8" y1="327.4" x2="450.9" y2="327.4" stroke="#111" stroke-width="1.5" stroke-linecap="butt"/>
<line x1="325.4" y1="327.4" x2="325.4" y2="330.8" stroke="#111" stroke-width="1.3" stroke-linecap="butt"/>
<line x1="370.0" y1="327.4" x2="370.0" y2="330.8" stroke="#111" stroke-width="1.3" stroke-linecap="butt"/>
<line x1="401.5" y1="327.4" x2="401.5" y2="330.8" stroke="#111" stroke-width="1.3" stroke-linecap="butt"/>
<line x1="416.6" y1="327.4" x2="416.6" y2="330.8" stroke="#111" stroke-width="1.3" stroke-linecap="butt"/>
<line x1="424.9" y1="327.4" x2="424.9" y2="330.8" stroke="#111" stroke-width="1.3" stroke-linecap="butt"/>
<text x="325.6" y="341.0" font-size="8.4" fill="#333333" text-anchor="middle" stroke="#333333" stroke-width="0.22"><tspan font-size="6" dy="-0.6">-</tspan><tspan dy="0.6">10</tspan></text>
<text x="335.5" y="341.0" font-size="8.4" fill="#333333" text-anchor="middle" stroke="#333333" stroke-width="0.22">0</text>
<text x="340.3" y="341.0" font-size="8.4" fill="#333333" text-anchor="middle" stroke="#333333" stroke-width="0.22">3</text>
<text x="346.3" y="341.0" font-size="8.4" fill="#333333" text-anchor="middle" stroke="#333333" stroke-width="0.22">7</text>
<text x="370.5" y="341.0" font-size="8.4" fill="#333333" text-anchor="middle" stroke="#333333" stroke-width="0.22">30</text>
<text x="401.4" y="341.0" font-size="8.4" fill="#333333" text-anchor="middle" stroke="#333333" stroke-width="0.22">56</text>
<text x="416.2" y="341.0" font-size="8.4" fill="#333333" text-anchor="middle" stroke="#333333" stroke-width="0.22">70</text>
<text x="427.3" y="341.0" font-size="8.4" fill="#333333" text-anchor="middle" stroke="#333333" stroke-width="0.22">77</text>
<text x="353.9" y="354.6" font-size="9.4" fill="#222" font-weight="bold" textLength="56.9" lengthAdjust="spacingAndGlyphs">Days after infusion</text>
<text x="285.0" y="281.2" font-size="10.8" fill="#222" text-anchor="middle" font-weight="bold" textLength="6.6" lengthAdjust="spacingAndGlyphs" transform="rotate(-90 285.0 281.2)">%</text>
<line x1="335.8" y1="233.8" x2="335.8" y2="327.4" stroke="#30303a" stroke-width="1.2349999999999999" stroke-linecap="butt"/>
<line x1="335.8" y1="233.8" x2="335.8" y2="327.4" stroke="#000" stroke-width="1.3" stroke-linecap="butt" stroke-dasharray="2.2 2.8"/>
<line x1="340.4" y1="233.8" x2="340.4" y2="327.4" stroke="#30303a" stroke-width="1.2349999999999999" stroke-linecap="butt"/>
<line x1="340.4" y1="233.8" x2="340.4" y2="327.4" stroke="#000" stroke-width="1.3" stroke-linecap="butt" stroke-dasharray="2.2 2.8"/>
<line x1="345.0" y1="233.8" x2="345.0" y2="327.4" stroke="#30303a" stroke-width="1.2349999999999999" stroke-linecap="butt"/>
<line x1="345.0" y1="233.8" x2="345.0" y2="327.4" stroke="#000" stroke-width="1.3" stroke-linecap="butt" stroke-dasharray="2.2 2.8"/>
<line x1="401.2" y1="233.5" x2="401.2" y2="327.4" stroke="#50505e" stroke-width="1.045" stroke-linecap="butt"/>
<line x1="401.2" y1="233.5" x2="401.2" y2="327.4" stroke="#000" stroke-width="1.1" stroke-linecap="butt" stroke-dasharray="2.2 2.8"/>
<line x1="367.5" y1="234.4" x2="367.5" y2="327" stroke="#000" stroke-width="1.0" stroke-linecap="butt" stroke-dasharray="1 1"/>
<line x1="424.9" y1="234.4" x2="424.9" y2="327" stroke="#000" stroke-width="1.0" stroke-linecap="butt" stroke-dasharray="1 1"/>
<polyline points="332.8,255.8 367.6,289.6 386.4,284.9 393.8,242.5 425.3,288.3 429.7,292.3" fill="none" stroke="#6cadd6" stroke-width="1.6" stroke-linejoin="miter"/>
<circle cx="332.8" cy="255.8" r="1.6" fill="#6cadd6"/>
<circle cx="367.6" cy="289.6" r="1.6" fill="#6cadd6"/>
<circle cx="386.4" cy="284.9" r="1.6" fill="#6cadd6"/>
<circle cx="393.8" cy="242.5" r="1.6" fill="#6cadd6"/>
<circle cx="425.3" cy="288.3" r="1.6" fill="#6cadd6"/>
<circle cx="429.7" cy="292.3" r="1.6" fill="#6cadd6"/>
<polyline points="338.2,327 344.2,327 352.8,269.2 358.8,287.6 382.3,327 406.5,327 415.2,291 424.9,304.5" fill="none" stroke="#b3175f" stroke-width="1.7" stroke-linejoin="miter"/>
<polygon points="336.59999999999997,326.04 339.8,326.04 338.2,328.44" fill="#b3175f"/>
<polygon points="342.59999999999997,326.04 345.8,326.04 344.2,328.44" fill="#b3175f"/>
<polygon points="351.2,268.24 354.40000000000003,268.24 352.8,270.64" fill="#b3175f"/>
<polygon points="357.2,286.64000000000004 360.40000000000003,286.64000000000004 358.8,289.04" fill="#b3175f"/>
<polygon points="380.7,326.04 383.90000000000003,326.04 382.3,328.44" fill="#b3175f"/>
<polygon points="404.9,326.04 408.1,326.04 406.5,328.44" fill="#b3175f"/>
<polygon points="413.59999999999997,290.04 416.8,290.04 415.2,292.44" fill="#b3175f"/>
<polygon points="423.29999999999995,303.54 426.5,303.54 424.9,305.94" fill="#b3175f"/>
<line x1="438.8" y1="242.0" x2="449.6" y2="242.0" stroke="#5aa6c6" stroke-width="1.5" stroke-linecap="butt"/>
<circle cx="444.2" cy="242.0" r="1.6" fill="#4aa0bc"/>
<line x1="438.8" y1="255.8" x2="449.6" y2="255.8" stroke="#a8145a" stroke-width="1.6" stroke-linecap="butt"/>
<polygon points="442.4,254.72 446.0,254.72 444.2,257.42" fill="#a01058"/>
<text x="452.7" y="245.1" font-size="7.4" fill="#333333" textLength="60.6" lengthAdjust="spacingAndGlyphs" stroke="#333333" stroke-width="0.22">BM lymphocytes%</text>
<text x="452.7" y="258.6" font-size="7.4" fill="#333333" stroke="#333333" stroke-width="0.22">CART %</text>
<rect x="0" y="0" width="520" height="1.55" fill="#000"/>
<rect x="0" y="0" width="1.55" height="364" fill="#000"/>
<rect x="518.5" y="0" width="1.5" height="364" fill="#000"/>
<rect x="0" y="362.5" width="520" height="1.5" fill="#000"/>
</svg>
</body></html>
